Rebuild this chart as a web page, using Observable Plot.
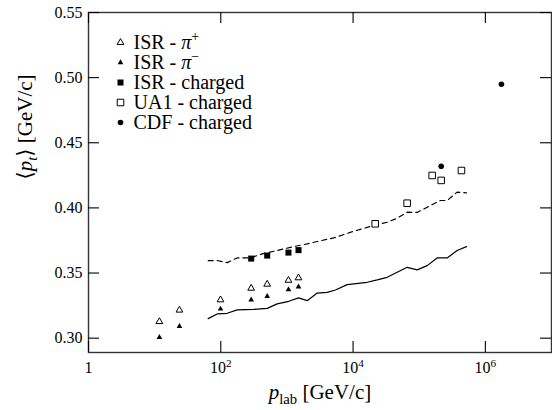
<!DOCTYPE html>
<html>
<head>
<meta charset="utf-8">
<script src="https://cdn.jsdelivr.net/npm/d3@7"></script>
<script src="https://cdn.jsdelivr.net/npm/@observablehq/plot@0.6"></script>
<style>
  html, body { margin: 0; padding: 0; background: white; }
  svg text { font-family: "Liberation Serif", "DejaVu Serif", serif !important; }
</style>
</head>
<body>
<div id="chart"></div>
<script>
// ---- data ----
const isrX = [11.8, 23.7, 99, 288, 503, 1055, 1496];
const isrPiPlus = [0.3127, 0.3215, 0.3294, 0.3383, 0.3414, 0.3444, 0.3463];
const isrPiMinus = [0.3006, 0.3091, 0.3224, 0.3294, 0.3321, 0.3373, 0.3394];

const isrChargedX = [288, 503, 1055, 1496];
const isrCharged = [0.3611, 0.3634, 0.3657, 0.3676];

const ua1X = [21600, 65700, 157000, 215000, 435000];
const ua1Charged = [0.3878, 0.4036, 0.4249, 0.4211, 0.4287];

const cdfX = [215000, 1750000];
const cdfCharged = [0.4320, 0.4949];

const solidX = [64.5, 88.3, 125, 177, 316, 503, 712, 1066, 1496, 2025, 2867, 4060, 5425, 8150,
  16340, 23130, 32800, 46450, 65770, 93100, 131900, 186700, 264600, 374700, 518000];
const solidY = [0.3150, 0.3186, 0.3191, 0.3217, 0.3221, 0.3229, 0.3263, 0.3283, 0.3309, 0.3288,
  0.3346, 0.3352, 0.3370, 0.3411, 0.3429, 0.3447, 0.3467, 0.3506, 0.3544, 0.3524, 0.3557,
  0.3616, 0.3616, 0.3673, 0.3703];

const dashedX = [64.5, 88.3, 125, 177, 280, 422, 712, 1270, 2025, 2867, 5110, 10250, 20560,
  32800, 46450, 65770, 93100, 131900, 209600, 264600, 374700, 518000];
const dashedY = [0.3596, 0.3596, 0.3580, 0.3616, 0.3616, 0.3647, 0.3673, 0.3703, 0.3724, 0.3742,
  0.3770, 0.3821, 0.3865, 0.3890, 0.3921, 0.3967, 0.3965, 0.4005, 0.4057, 0.4057, 0.4121, 0.4116];

const xTickValues = [1, 1e2, 1e4, 1e6];
const xTickLabels = ["1", "10^2", "10^4", "10^6"];
const yTickValues = [0.30, 0.35, 0.40, 0.45, 0.50, 0.55];

const legendLabels = ["ISR - π+", "ISR - π−", "ISR - charged", "UA1 - charged", "CDF - charged"];
const xTitle = "plab [GeV/c]";
const yTitle = "⟨pt⟩ [GeV/c]";

// ---- tables ----
const zip = (xs, ys) => xs.map((x, i) => ({x, y: ys[i]}));
const piPlus = zip(isrX, isrPiPlus);
const piMinus = zip(isrX, isrPiMinus);
const isrCh = zip(isrChargedX, isrCharged);
const ua1 = zip(ua1X, ua1Charged);
const cdf = zip(cdfX, cdfCharged);
const solid = zip(solidX, solidY);
const dashed = zip(dashedX, dashedY);

const font = "Liberation Serif";

const styles = [
  {symbol: "triangle", r: 2.5, fill: "white", stroke: "black", strokeWidth: 1},
  {symbol: "triangle", r: 2.1, fill: "black", stroke: "none"},
  {symbol: "square", r: 3.4, fill: "black", stroke: "none"},
  {symbol: "square", r: 3.7, fill: "white", stroke: "black", strokeWidth: 1},
  {symbol: "circle", r: 2.8, fill: "black", stroke: "none"}
];
const seriesData = [piPlus, piMinus, isrCh, ua1, cdf];

const legendMarks = [];
legendLabels.forEach((label, i) => {
  legendMarks.push(Plot.dot([label], {frameAnchor: "top-left", dx: 32, dy: 30 + 20 * i, ...styles[i]}));
  legendMarks.push(Plot.text([label], {frameAnchor: "top-left", dx: 45, dy: 30 + 20 * i,
    textAnchor: "start", lineAnchor: "middle", fontSize: 20, fill: "black", fontFamily: font}));
});

const chart = Plot.plot({
  width: 552,
  height: 410,
  marginLeft: 88,
  marginRight: 1,
  marginTop: 12,
  marginBottom: 58,
  x: {type: "log", domain: [1, 1e7]},
  y: {domain: [0.289, 0.55]},
  style: {fontFamily: font, background: "white", color: "black"},
  marks: [
    Plot.line(solid, {x: "x", y: "y", stroke: "black", strokeWidth: 1.2}),
    Plot.line(dashed, {x: "x", y: "y", stroke: "black", strokeWidth: 1.2, strokeDasharray: "5,4"}),
    ...seriesData.map((d, i) => Plot.dot(d, {x: "x", y: "y", ...styles[i]})),
    Plot.frame({stroke: "#333", strokeWidth: 1.4}),
    Plot.ruleX(xTickValues, {insetTop: 329, stroke: "black", strokeWidth: 1.1}),
    Plot.ruleX(xTickValues, {insetBottom: 329, stroke: "black", strokeWidth: 1.1}),
    Plot.ruleY(yTickValues, {insetRight: 452, stroke: "black", strokeWidth: 1.1}),
    Plot.ruleY(yTickValues, {insetLeft: 452, stroke: "black", strokeWidth: 1.1}),
    Plot.axisX(xTickValues, {anchor: "bottom", tickSize: 0, tickPadding: 9, fontSize: 16, fontFamily: font,
      tickFormat: d => xTickLabels[xTickValues.indexOf(d)], label: null}),
    Plot.axisY(yTickValues, {anchor: "left", tickSize: 0, tickPadding: 6, fontSize: 16, fontFamily: font,
      tickFormat: d3.format(".2f"), label: null}),
    Plot.text([xTitle], {frameAnchor: "bottom", dy: 40, fontSize: 21, lineAnchor: "middle", fill: "black", fontFamily: font}),
    Plot.text([yTitle], {frameAnchor: "left", dx: -63, dy: -3, rotate: -90, fontSize: 21, lineAnchor: "middle", fill: "black", fontFamily: font}),
    ...legendMarks
  ]
});

document.getElementById("chart").appendChild(chart);

// ---- rich text (italic, sub/superscripts) ----
const rich = {
  "ISR - π+": [["ISR - "], ["π", "i"], ["+", "sup"]],
  "ISR - π−": [["ISR - "], ["π", "i"], ["−", "sup"]],
  "10^2": [["10"], ["2", "sup"]],
  "10^4": [["10"], ["4", "sup"]],
  "10^6": [["10"], ["6", "sup"]],
  "plab [GeV/c]": [["p", "i"], ["lab", "sub"], [" [GeV/c]"]],
  "⟨pt⟩ [GeV/c]": [["⟨"], ["p", "i"], ["t", "i sub"], ["⟩ [GeV/c]"]]
};
d3.select(chart).selectAll("text").each(function () {
  this.setAttribute("font-family", "Liberation Serif, DejaVu Serif, serif");
  const txt = this.textContent;
  const parts = rich[txt];
  if (!parts) return;
  const size = parseFloat(getComputedStyle(this).fontSize) || 16;
  const sel = d3.select(this);
  sel.text(null);
  let shift = 0;
  for (const [s, st = ""] of parts) {
    const t = sel.append("tspan").text(s);
    let target = 0;
    const tokens = st.split(" ");
    if (tokens.includes("sup")) { target = -0.38 * size; t.attr("font-size", (0.7 * size) + "px"); }
    if (tokens.includes("sub")) { target = 0.22 * size; t.attr("font-size", (0.7 * size) + "px"); }
    if (tokens.includes("i")) t.attr("font-style", "italic");
    if (target !== shift) { t.attr("dy", target - shift); shift = target; }
  }
});
</script>
</body>
</html>
